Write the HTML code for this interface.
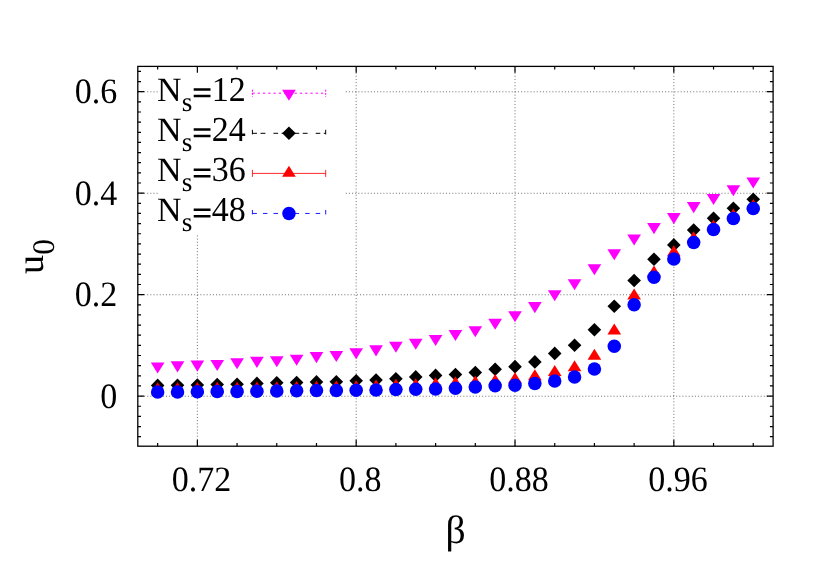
<!DOCTYPE html>
<html><head><meta charset="utf-8"><title>plot</title>
<style>
html,body{margin:0;padding:0;background:#fff;}
body{width:830px;height:581px;overflow:hidden;}
svg{display:block;transform:translateZ(0);will-change:transform;}
text{font-family:"Liberation Serif",serif;fill:#000;text-rendering:geometricPrecision;}
</style></head><body>
<svg width="830" height="581" viewBox="0 0 830 581">
<rect width="830" height="581" fill="#fff"/>

<g stroke="#1a1a1a" stroke-width="0.6" stroke-dasharray="1.05 2.08" fill="none">
<path d="M197.36 446.2L197.36 234.7"/>
<path d="M356.18 446.2L356.18 66.4"/>
<path d="M515.01 446.2L515.01 66.4"/>
<path d="M673.83 446.2L673.83 66.4"/>
<path d="M137.8 396.22L773.1 396.22"/>
<path d="M137.8 294.75L773.1 294.75"/>
<path d="M137.8 193.28L158 193.28"/>
<path d="M345.8 193.28L773.1 193.28"/>
<path d="M137.8 91.81L158 91.81"/>
<path d="M345.8 91.81L773.1 91.81"/>
</g>
<g stroke="#000" stroke-width="1.2" fill="none">
<path d="M157.65 446.2v-3.2M157.65 66.4v3.2"/>
<path d="M197.36 446.2v-6.4M197.36 66.4v6.4"/>
<path d="M237.07 446.2v-3.2M237.07 66.4v3.2"/>
<path d="M276.77 446.2v-3.2M276.77 66.4v3.2"/>
<path d="M316.48 446.2v-3.2M316.48 66.4v3.2"/>
<path d="M356.18 446.2v-6.4M356.18 66.4v6.4"/>
<path d="M395.89 446.2v-3.2M395.89 66.4v3.2"/>
<path d="M435.60 446.2v-3.2M435.60 66.4v3.2"/>
<path d="M475.30 446.2v-3.2M475.30 66.4v3.2"/>
<path d="M515.01 446.2v-6.4M515.01 66.4v6.4"/>
<path d="M554.72 446.2v-3.2M554.72 66.4v3.2"/>
<path d="M594.42 446.2v-3.2M594.42 66.4v3.2"/>
<path d="M634.13 446.2v-3.2M634.13 66.4v3.2"/>
<path d="M673.83 446.2v-6.4M673.83 66.4v6.4"/>
<path d="M713.54 446.2v-3.2M713.54 66.4v3.2"/>
<path d="M753.25 446.2v-3.2M753.25 66.4v3.2"/>
<path d="M137.8 436.69h3.2M773.1 436.69h-3.2"/>
<path d="M137.8 426.54h3.2M773.1 426.54h-3.2"/>
<path d="M137.8 416.39h3.2M773.1 416.39h-3.2"/>
<path d="M137.8 406.25h3.2M773.1 406.25h-3.2"/>
<path d="M137.8 396.10h6.4M773.1 396.10h-6.4"/>
<path d="M137.8 385.95h3.2M773.1 385.95h-3.2"/>
<path d="M137.8 375.81h3.2M773.1 375.81h-3.2"/>
<path d="M137.8 365.66h3.2M773.1 365.66h-3.2"/>
<path d="M137.8 355.51h3.2M773.1 355.51h-3.2"/>
<path d="M137.8 345.37h3.2M773.1 345.37h-3.2"/>
<path d="M137.8 335.22h3.2M773.1 335.22h-3.2"/>
<path d="M137.8 325.07h3.2M773.1 325.07h-3.2"/>
<path d="M137.8 314.92h3.2M773.1 314.92h-3.2"/>
<path d="M137.8 304.78h3.2M773.1 304.78h-3.2"/>
<path d="M137.8 294.63h6.4M773.1 294.63h-6.4"/>
<path d="M137.8 284.48h3.2M773.1 284.48h-3.2"/>
<path d="M137.8 274.34h3.2M773.1 274.34h-3.2"/>
<path d="M137.8 264.19h3.2M773.1 264.19h-3.2"/>
<path d="M137.8 254.04h3.2M773.1 254.04h-3.2"/>
<path d="M137.8 243.90h3.2M773.1 243.90h-3.2"/>
<path d="M137.8 233.75h3.2M773.1 233.75h-3.2"/>
<path d="M137.8 223.60h3.2M773.1 223.60h-3.2"/>
<path d="M137.8 213.45h3.2M773.1 213.45h-3.2"/>
<path d="M137.8 203.31h3.2M773.1 203.31h-3.2"/>
<path d="M137.8 193.16h6.4M773.1 193.16h-6.4"/>
<path d="M137.8 183.01h3.2M773.1 183.01h-3.2"/>
<path d="M137.8 172.87h3.2M773.1 172.87h-3.2"/>
<path d="M137.8 162.72h3.2M773.1 162.72h-3.2"/>
<path d="M137.8 152.57h3.2M773.1 152.57h-3.2"/>
<path d="M137.8 142.42h3.2M773.1 142.42h-3.2"/>
<path d="M137.8 132.28h3.2M773.1 132.28h-3.2"/>
<path d="M137.8 122.13h3.2M773.1 122.13h-3.2"/>
<path d="M137.8 111.98h3.2M773.1 111.98h-3.2"/>
<path d="M137.8 101.84h3.2M773.1 101.84h-3.2"/>
<path d="M137.8 91.69h6.4M773.1 91.69h-6.4"/>
<path d="M137.8 81.54h3.2M773.1 81.54h-3.2"/>
<path d="M137.8 71.40h3.2M773.1 71.40h-3.2"/>
</g>
<g fill="#ff00ff"><path d="M150.80 362.47L164.50 362.47L157.65 373.57Z"/><path d="M170.66 361.37L184.36 361.37L177.51 372.47Z"/><path d="M190.51 360.57L204.21 360.57L197.36 371.67Z"/><path d="M210.36 359.97L224.06 359.97L217.21 371.07Z"/><path d="M230.22 358.27L243.92 358.27L237.07 369.37Z"/><path d="M250.07 356.87L263.77 356.87L256.92 367.97Z"/><path d="M269.92 356.27L283.62 356.27L276.77 367.37Z"/><path d="M289.78 354.67L303.48 354.67L296.63 365.77Z"/><path d="M309.63 352.07L323.33 352.07L316.48 363.17Z"/><path d="M329.48 350.97L343.18 350.97L336.33 362.07Z"/><path d="M349.33 348.27L363.03 348.27L356.18 359.37Z"/><path d="M369.19 345.37L382.89 345.37L376.04 356.47Z"/><path d="M389.04 341.67L402.74 341.67L395.89 352.77Z"/><path d="M408.89 338.67L422.59 338.67L415.74 349.77Z"/><path d="M428.75 334.97L442.45 334.97L435.60 346.07Z"/><path d="M448.60 329.97L462.30 329.97L455.45 341.07Z"/><path d="M468.45 326.27L482.15 326.27L475.30 337.37Z"/><path d="M488.31 318.77L502.01 318.77L495.16 329.87Z"/><path d="M508.16 311.27L521.86 311.27L515.01 322.37Z"/><path d="M528.01 302.07L541.71 302.07L534.86 313.17Z"/><path d="M547.87 290.27L561.57 290.27L554.72 301.37Z"/><path d="M567.72 279.17L581.42 279.17L574.57 290.27Z"/><path d="M587.57 264.27L601.27 264.27L594.42 275.37Z"/><path d="M607.42 249.28L621.12 249.28L614.27 260.37Z"/><path d="M627.28 234.38L640.98 234.38L634.13 245.47Z"/><path d="M647.13 223.07L660.83 223.07L653.98 234.17Z"/><path d="M666.98 213.07L680.68 213.07L673.83 224.17Z"/><path d="M686.84 202.07L700.54 202.07L693.69 213.17Z"/><path d="M706.69 193.88L720.39 193.88L713.54 204.97Z"/><path d="M726.54 185.17L740.24 185.17L733.39 196.27Z"/><path d="M746.40 177.47L760.10 177.47L753.25 188.57Z"/></g>
<g fill="#000"><path d="M150.85 385.40L157.65 378.60L164.45 385.40L157.65 392.20Z"/><path d="M170.71 385.20L177.51 378.40L184.31 385.20L177.51 392.00Z"/><path d="M190.56 385.00L197.36 378.20L204.16 385.00L197.36 391.80Z"/><path d="M210.41 384.60L217.21 377.80L224.01 384.60L217.21 391.40Z"/><path d="M230.27 384.20L237.07 377.40L243.87 384.20L237.07 391.00Z"/><path d="M250.12 383.40L256.92 376.60L263.72 383.40L256.92 390.20Z"/><path d="M269.97 382.80L276.77 376.00L283.57 382.80L276.77 389.60Z"/><path d="M289.83 382.50L296.63 375.70L303.43 382.50L296.63 389.30Z"/><path d="M309.68 381.90L316.48 375.10L323.28 381.90L316.48 388.70Z"/><path d="M329.53 381.70L336.33 374.90L343.13 381.70L336.33 388.50Z"/><path d="M349.38 380.70L356.18 373.90L362.98 380.70L356.18 387.50Z"/><path d="M369.24 380.10L376.04 373.30L382.84 380.10L376.04 386.90Z"/><path d="M389.09 378.80L395.89 372.00L402.69 378.80L395.89 385.60Z"/><path d="M408.94 376.90L415.74 370.10L422.54 376.90L415.74 383.70Z"/><path d="M428.80 375.40L435.60 368.60L442.40 375.40L435.60 382.20Z"/><path d="M448.65 374.50L455.45 367.70L462.25 374.50L455.45 381.30Z"/><path d="M468.50 372.50L475.30 365.70L482.10 372.50L475.30 379.30Z"/><path d="M488.36 369.20L495.16 362.40L501.96 369.20L495.16 376.00Z"/><path d="M508.21 366.65L515.01 359.85L521.81 366.65L515.01 373.45Z"/><path d="M528.06 361.90L534.86 355.10L541.66 361.90L534.86 368.70Z"/><path d="M547.92 353.40L554.72 346.60L561.52 353.40L554.72 360.20Z"/><path d="M567.77 345.20L574.57 338.40L581.37 345.20L574.57 352.00Z"/><path d="M587.62 329.80L594.42 323.00L601.22 329.80L594.42 336.60Z"/><path d="M607.47 306.30L614.27 299.50L621.07 306.30L614.27 313.10Z"/><path d="M627.33 280.50L634.13 273.70L640.93 280.50L634.13 287.30Z"/><path d="M647.18 259.20L653.98 252.40L660.78 259.20L653.98 266.00Z"/><path d="M667.03 244.90L673.83 238.10L680.63 244.90L673.83 251.70Z"/><path d="M686.89 230.10L693.69 223.30L700.49 230.10L693.69 236.90Z"/><path d="M706.74 218.30L713.54 211.50L720.34 218.30L713.54 225.10Z"/><path d="M726.59 208.30L733.39 201.50L740.19 208.30L733.39 215.10Z"/><path d="M746.45 199.20L753.25 192.40L760.05 199.20L753.25 206.00Z"/></g>
<g fill="#ff0000"><path d="M150.80 393.32L164.50 393.32L157.65 382.23Z"/><path d="M170.66 393.22L184.36 393.22L177.51 382.13Z"/><path d="M190.51 393.12L204.21 393.12L197.36 382.03Z"/><path d="M210.36 392.93L224.06 392.93L217.21 381.83Z"/><path d="M230.22 392.82L243.92 392.82L237.07 381.73Z"/><path d="M250.07 392.62L263.77 392.62L256.92 381.53Z"/><path d="M269.92 392.43L283.62 392.43L276.77 381.33Z"/><path d="M289.78 392.12L303.48 392.12L296.63 381.03Z"/><path d="M309.63 391.93L323.33 391.93L316.48 380.83Z"/><path d="M329.48 391.62L343.18 391.62L336.33 380.53Z"/><path d="M349.33 391.32L363.03 391.32L356.18 380.23Z"/><path d="M369.19 390.62L382.89 390.62L376.04 379.53Z"/><path d="M389.04 389.72L402.74 389.72L395.89 378.63Z"/><path d="M408.89 389.43L422.59 389.43L415.74 378.33Z"/><path d="M428.75 388.43L442.45 388.43L435.60 377.33Z"/><path d="M448.60 387.43L462.30 387.43L455.45 376.33Z"/><path d="M468.45 386.52L482.15 386.52L475.30 375.43Z"/><path d="M488.31 385.12L502.01 385.12L495.16 374.03Z"/><path d="M508.16 383.22L521.86 383.22L515.01 372.13Z"/><path d="M528.01 380.32L541.71 380.32L534.86 369.23Z"/><path d="M547.87 376.12L561.57 376.12L554.72 365.03Z"/><path d="M567.72 371.32L581.42 371.32L574.57 360.23Z"/><path d="M587.57 359.72L601.27 359.72L594.42 348.63Z"/><path d="M607.42 334.62L621.12 334.62L614.27 323.53Z"/><path d="M627.28 299.52L640.98 299.52L634.13 288.43Z"/><path d="M647.13 276.52L660.83 276.52L653.98 265.43Z"/><path d="M666.98 256.23L680.68 256.23L673.83 245.13Z"/><path d="M686.84 242.33L700.54 242.33L693.69 231.23Z"/><path d="M706.69 230.63L720.39 230.63L713.54 219.53Z"/><path d="M726.54 219.63L740.24 219.63L733.39 208.53Z"/><path d="M746.40 210.03L760.10 210.03L753.25 198.93Z"/></g>
<g fill="#0000ff"><circle cx="157.65" cy="392.10" r="6.75"/><circle cx="177.51" cy="391.90" r="6.75"/><circle cx="197.36" cy="391.80" r="6.75"/><circle cx="217.21" cy="391.60" r="6.75"/><circle cx="237.07" cy="391.40" r="6.75"/><circle cx="256.92" cy="391.20" r="6.75"/><circle cx="276.77" cy="391.00" r="6.75"/><circle cx="296.63" cy="390.80" r="6.75"/><circle cx="316.48" cy="390.60" r="6.75"/><circle cx="336.33" cy="390.40" r="6.75"/><circle cx="356.18" cy="390.20" r="6.75"/><circle cx="376.04" cy="389.90" r="6.75"/><circle cx="395.89" cy="389.60" r="6.75"/><circle cx="415.74" cy="389.30" r="6.75"/><circle cx="435.60" cy="388.90" r="6.75"/><circle cx="455.45" cy="388.30" r="6.75"/><circle cx="475.30" cy="387.00" r="6.75"/><circle cx="495.16" cy="385.80" r="6.75"/><circle cx="515.01" cy="385.20" r="6.75"/><circle cx="534.86" cy="383.50" r="6.75"/><circle cx="554.72" cy="381.00" r="6.75"/><circle cx="574.57" cy="377.10" r="6.75"/><circle cx="594.42" cy="369.00" r="6.75"/><circle cx="614.27" cy="346.30" r="6.75"/><circle cx="634.13" cy="304.80" r="6.75"/><circle cx="653.98" cy="277.30" r="6.75"/><circle cx="673.83" cy="259.00" r="6.75"/><circle cx="693.69" cy="242.60" r="6.75"/><circle cx="713.54" cy="229.40" r="6.75"/><circle cx="733.39" cy="218.40" r="6.75"/><circle cx="753.25" cy="208.40" r="6.75"/></g>
<rect x="137.8" y="66.4" width="635.30" height="379.80" fill="none" stroke="#000" stroke-width="1.3"/>
<g stroke="#ff00ff" stroke-width="1" fill="none" stroke-dasharray="2.3 2.97"><path d="M252.4 93.2L325.7 93.2"/><path d="M252.4 89.7v7.0M325.7 89.7v7.0" stroke-dasharray="2 1.2"/></g>
<g fill="#ff00ff"><path d="M282.10 89.78L295.80 89.78L288.95 100.87Z"/></g>
<g stroke="#000" stroke-width="1" fill="none" stroke-dasharray="4.6 3.5 4.9 8.1"><path d="M252.4 133.3L325.7 133.3"/><path d="M252.4 129.8v7.0M325.7 129.8v7.0"/></g>
<g fill="#000"><path d="M282.15 133.30L288.95 126.50L295.75 133.30L288.95 140.10Z"/></g>
<g stroke="#ff0000" stroke-width="0.85" fill="none"><path d="M252.4 173.4L325.7 173.4"/><path d="M252.4 169.9v7.0M325.7 169.9v7.0"/></g>
<g fill="#ff0000"><path d="M282.10 176.83L295.80 176.83L288.95 165.73Z"/></g>
<g stroke="#0000ff" stroke-width="0.9" fill="none" stroke-dasharray="4.5 6.05"><path d="M252.4 213.45L325.7 213.45"/><path d="M252.4 209.95v7.0M325.7 209.95v7.0"/></g>
<g fill="#0000ff"><circle cx="288.95" cy="213.45" r="6.75"/></g>
<text x="157.1" y="101.2" font-size="34">N<tspan dy="10.0" font-size="27.2">s</tspan></text>
<path d="M193.7 89.45h16.8M193.7 96.00h16.8" stroke="#000" stroke-width="2.5" fill="none"/>
<text transform="translate(211.7 101.2) scale(1 1.03)" font-size="34">12</text>
<text x="157.1" y="141.3" font-size="34">N<tspan dy="10.0" font-size="27.2">s</tspan></text>
<path d="M193.7 129.55h16.8M193.7 136.10h16.8" stroke="#000" stroke-width="2.5" fill="none"/>
<text transform="translate(211.7 141.3) scale(1 1.03)" font-size="34">24</text>
<text x="157.1" y="181.4" font-size="34">N<tspan dy="10.0" font-size="27.2">s</tspan></text>
<path d="M193.7 169.65h16.8M193.7 176.20h16.8" stroke="#000" stroke-width="2.5" fill="none"/>
<text transform="translate(211.7 181.4) scale(1 1.03)" font-size="34">36</text>
<text x="157.1" y="221.4" font-size="34">N<tspan dy="10.0" font-size="27.2">s</tspan></text>
<path d="M193.7 209.70h16.8M193.7 216.25h16.8" stroke="#000" stroke-width="2.5" fill="none"/>
<text transform="translate(211.7 221.4) scale(1 1.03)" font-size="34">48</text>
<text transform="translate(117.2 407.7) scale(1 1.05)" font-size="34" text-anchor="end">0</text>
<text transform="translate(117.2 306.2) scale(1 1.05)" font-size="34" text-anchor="end">0.2</text>
<text transform="translate(117.2 204.8) scale(1 1.05)" font-size="34" text-anchor="end">0.4</text>
<text transform="translate(117.2 103.3) scale(1 1.05)" font-size="34" text-anchor="end">0.6</text>
<text transform="translate(201.5 491.3) scale(1 1.05)" font-size="34" text-anchor="middle">0.72</text>
<text transform="translate(360.3 491.3) scale(1 1.05)" font-size="34" text-anchor="middle">0.8</text>
<text transform="translate(519.1 491.3) scale(1 1.05)" font-size="34" text-anchor="middle">0.88</text>
<text transform="translate(677.9 491.3) scale(1 1.05)" font-size="34" text-anchor="middle">0.96</text>
<text x="455.6" y="543.1" font-size="39.6" text-anchor="middle">β</text>
<text transform="translate(42.7 273.9) rotate(-90)" font-size="38.1">u<tspan dy="10.8" font-size="31.5">0</tspan></text>
</svg></body></html>
